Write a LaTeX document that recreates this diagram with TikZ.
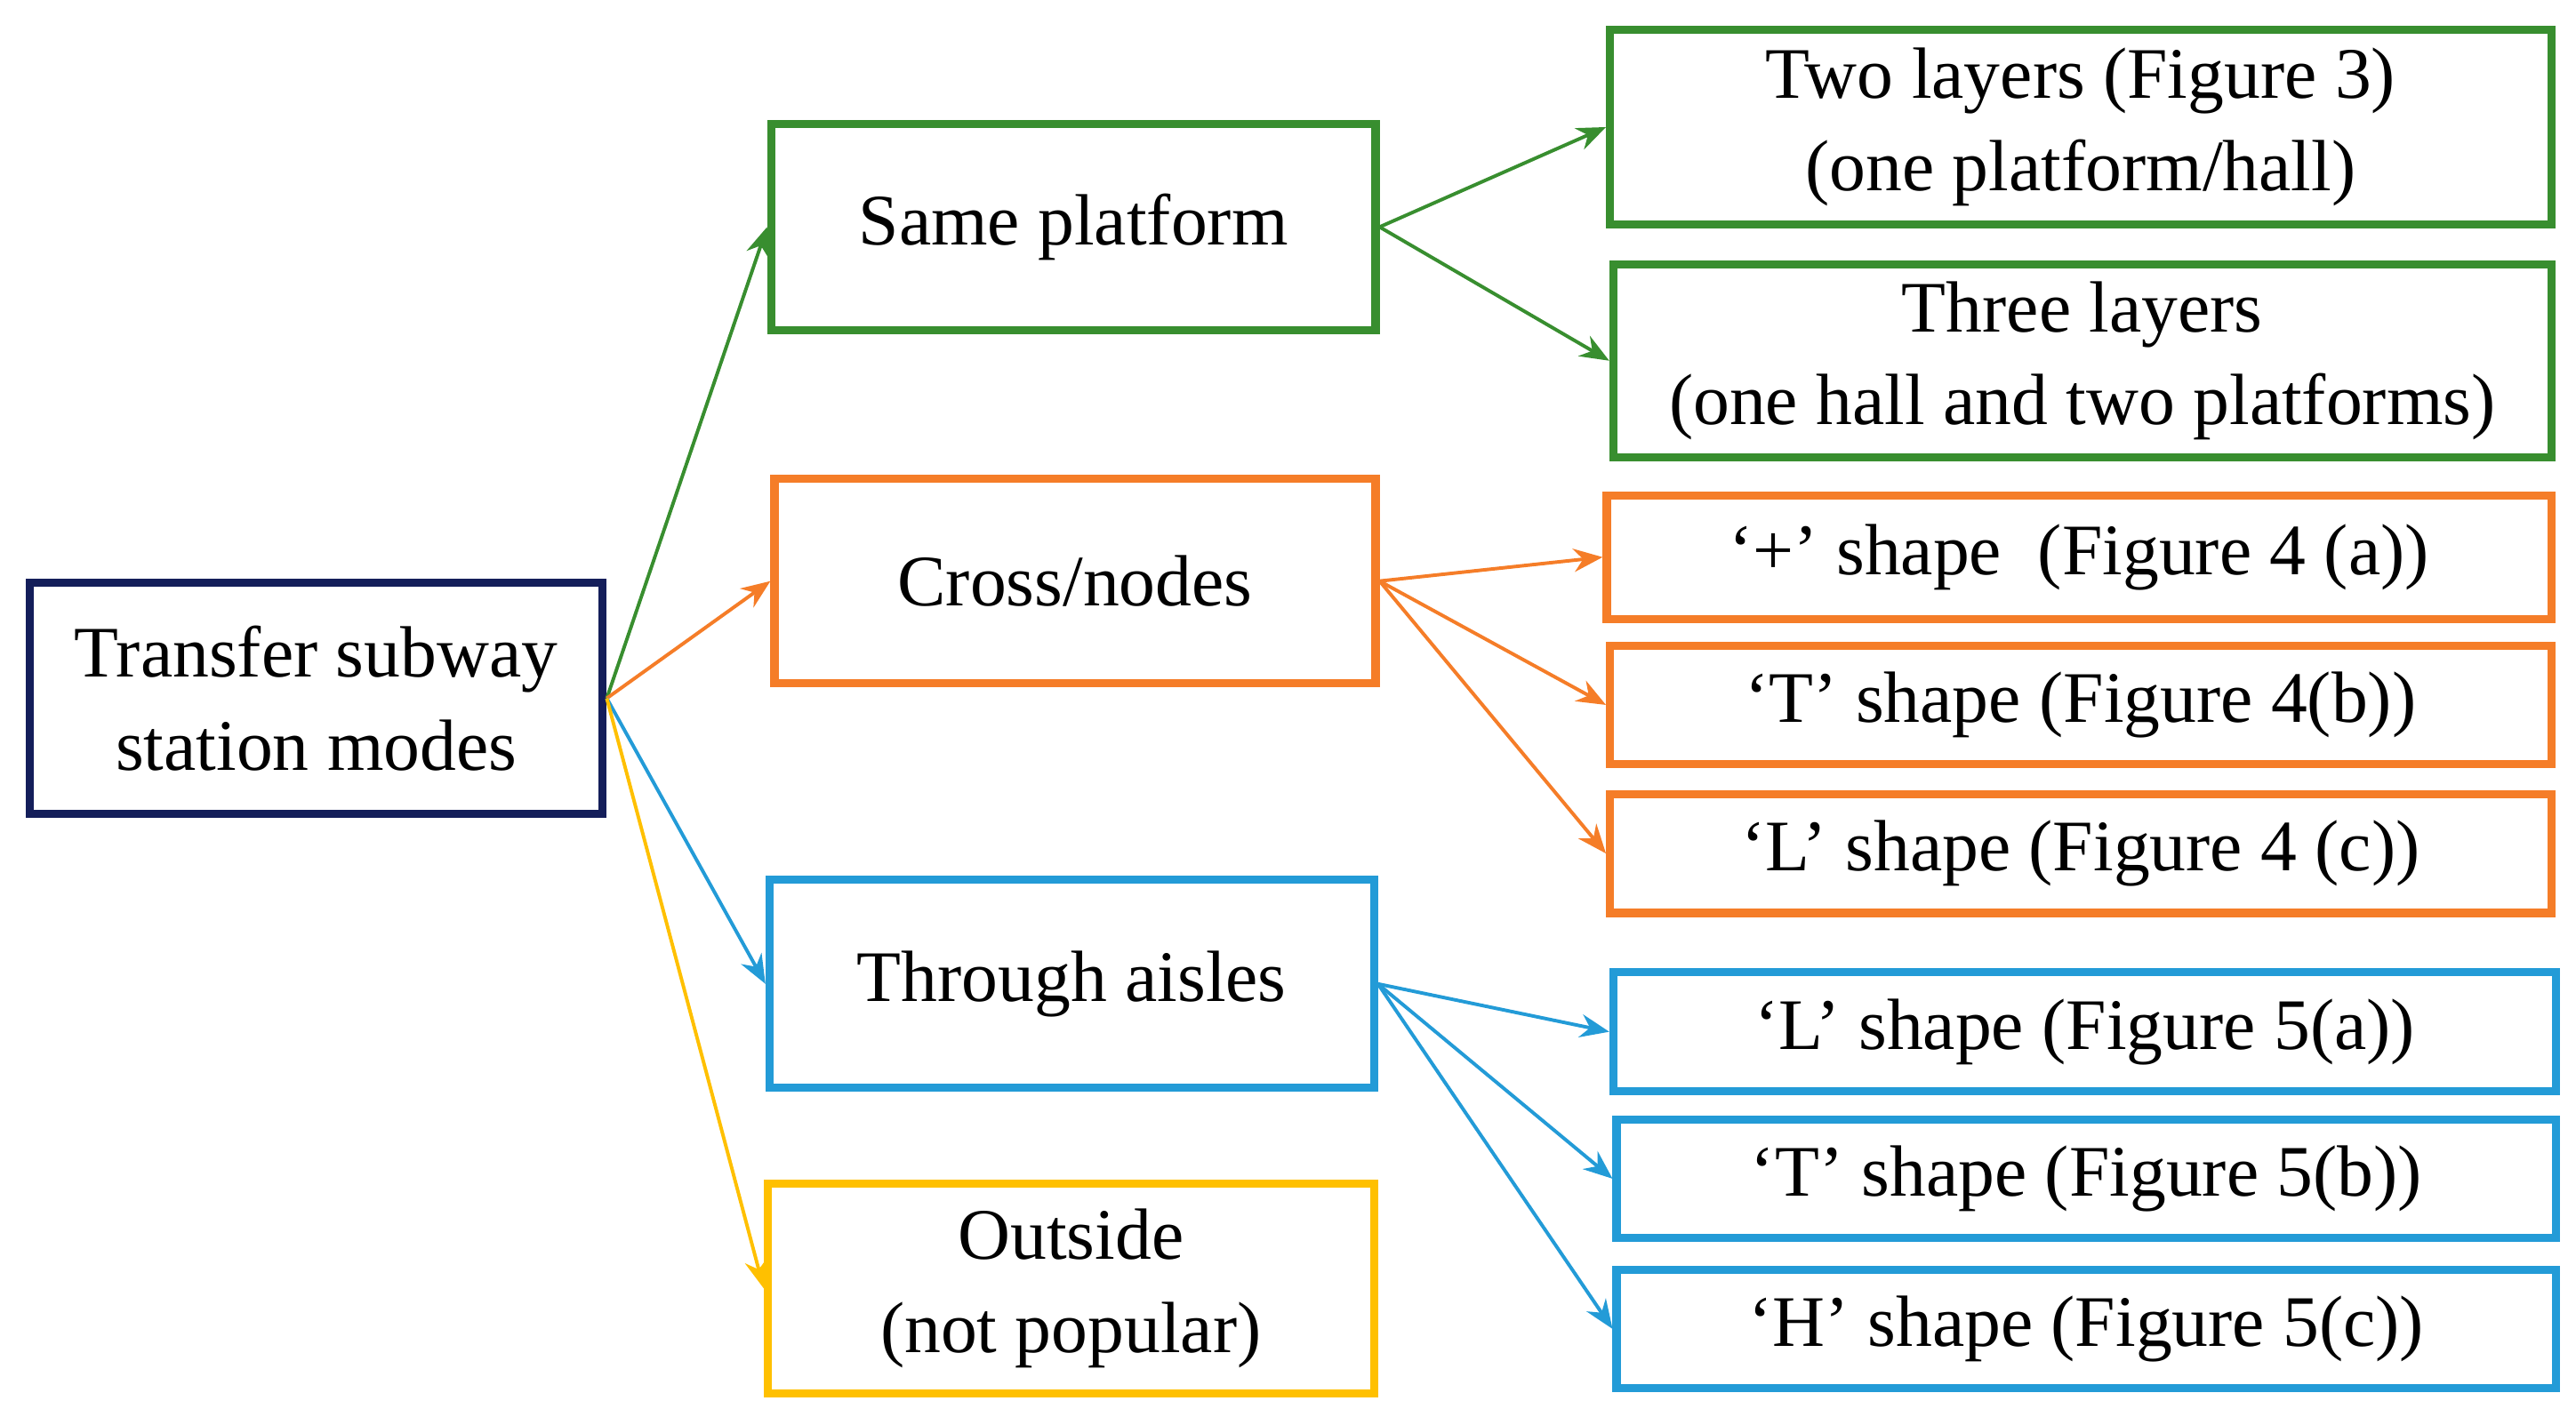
\documentclass[tikz,border=0pt]{standalone}
\usepackage{fontspec}
\setmainfont{Liberation Serif}
\usetikzlibrary{arrows.meta}
\definecolor{cnavy}{RGB}{20,30,90}
\definecolor{cgreen}{RGB}{56,142,47}
\definecolor{corange}{RGB}{245,125,40}
\definecolor{cblue}{RGB}{35,155,215}
\definecolor{cyellow}{RGB}{255,192,0}
\newcommand{\mybox}[7]{%
  \node[box,draw=#6,minimum width={(#4-#2)*0.01cm},minimum height={(#5-#3)*0.01cm}]
    (#1) at ({(#2+#4)/2},{(#3+#5)/2}) {#7};}
\begin{document}
\begin{tikzpicture}[x=0.01cm,y=-0.01cm,
  box/.style={rectangle,line width=1.4pt,inner sep=0pt,align=center,font=\fontsize{12.5}{16}\selectfont},
  arr/.style={-{Stealth[length=5pt,width=4pt]},line width=0.6pt}]
\useasboundingbox (0,0) rectangle (1560,858);
\mybox{root}{18}{353}{365}{493}{cnavy}{Transfer subway\\station modes}
\mybox{same}{467}{75}{833}{200}{cgreen}{Same platform}
\mybox{cross}{469}{290}{833}{414}{corange}{Cross/nodes}
\mybox{thr}{466}{533}{832}{659}{cblue}{Through aisles}
\mybox{out}{465}{717}{832}{844}{cyellow}{Outside\\(not popular)}
\mybox{two}{975}{18}{1545}{136}{cgreen}{Two layers (Figure 3)\\(one platform/hall)}
\mybox{three}{977}{160}{1545}{277}{cgreen}{Three layers\\(one hall and two platforms)}
\mybox{plus}{973}{300}{1545}{375}{corange}{‘+’ shape~~(Figure 4 (a))}
\mybox{t4}{975}{391}{1545}{463}{corange}{‘T’ shape (Figure 4(b))}
\mybox{l4}{975}{481}{1545}{553}{corange}{‘L’ shape (Figure 4 (c))}
\mybox{l5}{977}{589}{1548}{661}{cblue}{‘L’ shape (Figure 5(a))}
\mybox{t5}{979}{678}{1548}{750}{cblue}{‘T’ shape (Figure 5(b))}
\mybox{h5}{979}{769}{1548}{841}{cblue}{‘H’ shape (Figure 5(c))}
\draw[arr,cgreen] (root.east) -- (same.west);
\draw[arr,corange] (root.east) -- (cross.west);
\draw[arr,cblue] (root.east) -- (thr.west);
\draw[arr,cyellow] (root.east) -- (out.west);
\draw[arr,cgreen] (same.east) -- (two.west);
\draw[arr,cgreen] (same.east) -- (three.west);
\draw[arr,corange] (cross.east) -- (plus.west);
\draw[arr,corange] (cross.east) -- (t4.west);
\draw[arr,corange] (cross.east) -- (l4.west);
\draw[arr,cblue] (thr.east) -- (l5.west);
\draw[arr,cblue] (thr.east) -- (t5.west);
\draw[arr,cblue] (thr.east) -- (h5.west);
\end{tikzpicture}
\end{document}
